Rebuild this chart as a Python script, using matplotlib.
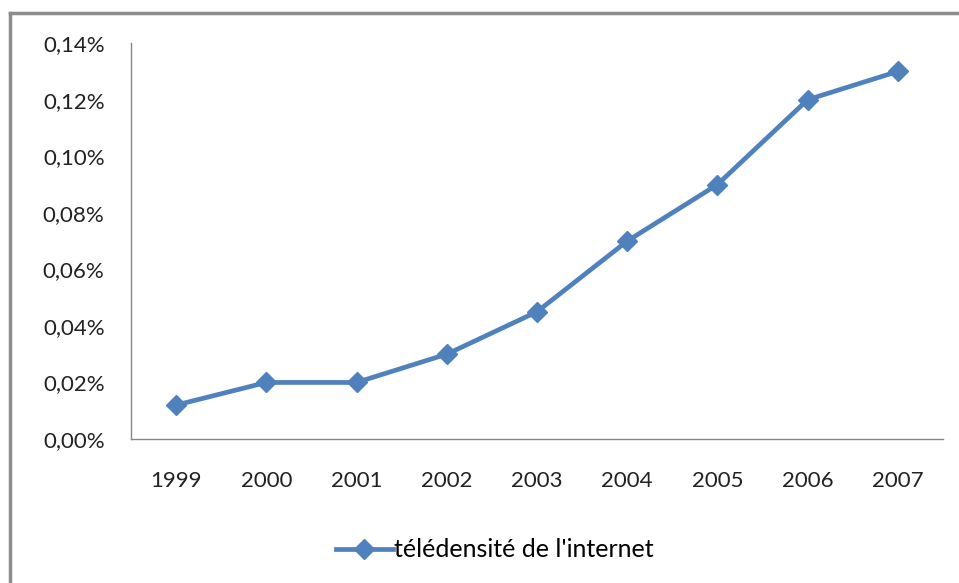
import matplotlib
matplotlib.use('Agg')
import matplotlib.pyplot as plt
from matplotlib.lines import Line2D
from matplotlib.ticker import FuncFormatter

years = ['1999', '2000', '2001', '2002', '2003', '2004', '2005', '2006', '2007']
teledensite = [0.012, 0.020, 0.020, 0.030, 0.045, 0.070, 0.090, 0.120, 0.130]
y_ticks = [0.00, 0.02, 0.04, 0.06, 0.08, 0.10, 0.12, 0.14]
series_label = "télédensité de l'internet"

plt.rcParams['font.family'] = ['Lato', 'DejaVu Sans']

blue = '#4F81BD'
grey = '#868686'

fig = plt.figure(figsize=(9.59, 5.83), dpi=100)
ax = fig.add_axes([0.1366, 0.247, 0.8467, 0.679])

x = list(range(len(years)))
ax.plot(x, teledensite, color=blue, lw=3.4, marker='D', markersize=10.5,
        markeredgecolor=blue, label=series_label)

ax.set_xlim(-0.5, len(years) - 0.5)
ax.set_ylim(0, 0.14)
ax.set_xticks(x)
ax.set_xticklabels(years)
ax.set_yticks(y_ticks)
ax.yaxis.set_major_formatter(FuncFormatter(lambda v, p: '{:.2f}%'.format(v).replace('.', ',')))

for side in ['top', 'right']:
    ax.spines[side].set_visible(False)
for side in ['left', 'bottom']:
    ax.spines[side].set_color(grey)
    ax.spines[side].set_linewidth(1.0)

ax.tick_params(axis='both', length=0, labelsize=16, colors='#222222')
ax.tick_params(axis='y', pad=19)
ax.tick_params(axis='x', pad=23)

leg = ax.legend(loc='center', bbox_to_anchor=(0.448, -0.28), frameon=False,
                fontsize=18, handlelength=2.3, handletextpad=0.05)

# frame of the chart area (top and left edges visible)
fig.add_artist(Line2D([0.0104, 1.0], [0.9777, 0.9777], color='#8c8c8c', lw=2.5))
fig.add_artist(Line2D([0.0104, 0.0104], [0.0, 0.9777], color='#8c8c8c', lw=2.5))

fig.savefig('out.png', dpi=100)
